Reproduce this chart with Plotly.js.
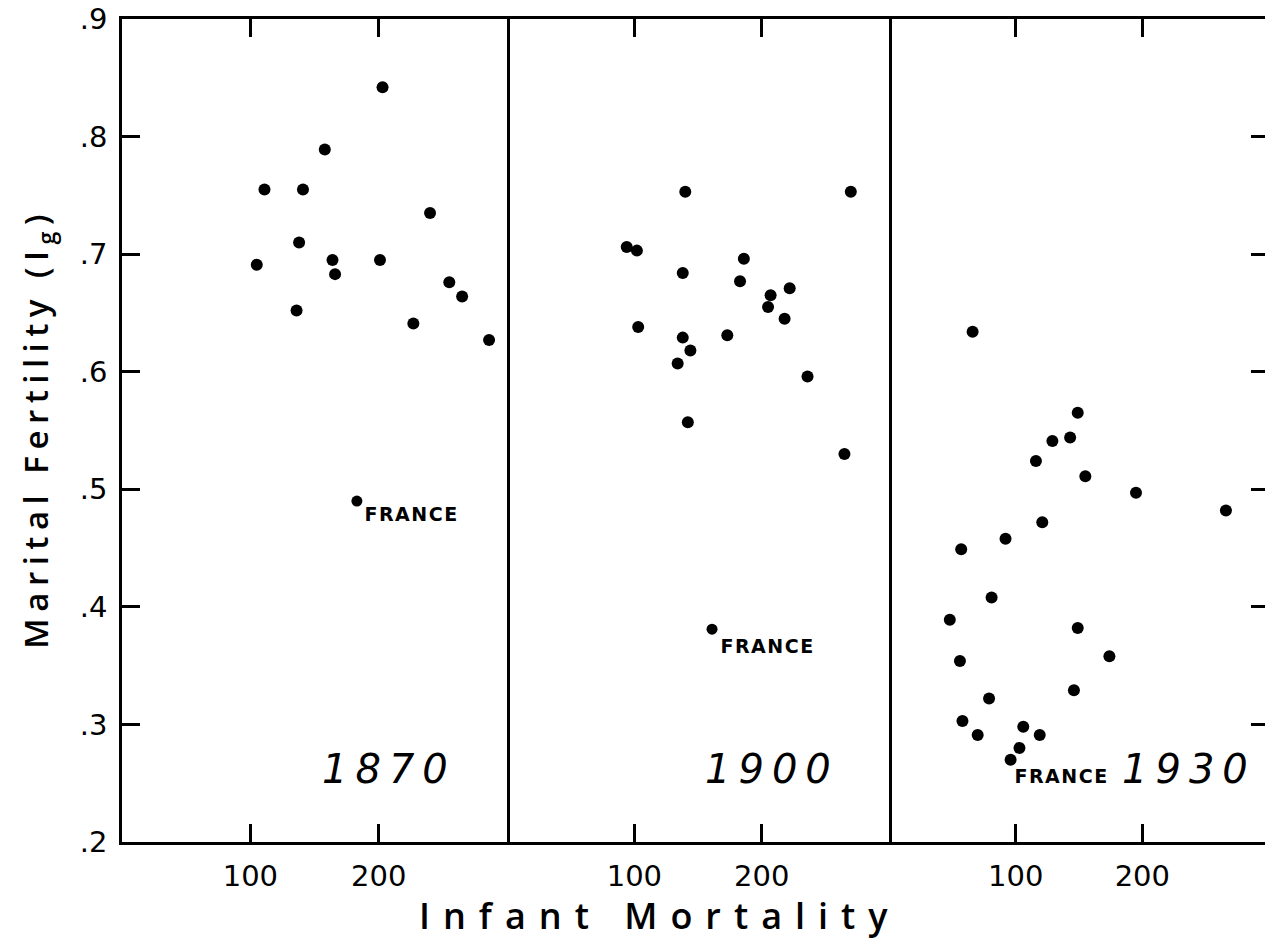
<!DOCTYPE html>
<html>
<head>
<meta charset="utf-8">
<script src="https://cdn.plot.ly/plotly-3.0.1.min.js"></script>
<style>
html, body { margin: 0; padding: 0; background: #fff; overflow: hidden; width: 1265px; height: 940px; }
#chart { width: 1270px; height: 940px; }
</style>
</head>
<body>
<div id="chart"></div>
<script>
// Infant mortality (x) and marital fertility Ig (y)
const years = ["1870", "1900", "1930"];

const mort1870 = [203, 158, 111, 141, 240, 138, 105, 164, 166, 201, 255, 265, 136, 227, 286];
const fert1870 = [0.842, 0.789, 0.755, 0.755, 0.735, 0.710, 0.691, 0.695, 0.683, 0.695, 0.676, 0.664, 0.652, 0.641, 0.627];

const mort1900 = [140, 270, 94, 102, 186, 138, 183, 222, 207, 205, 218, 103, 138, 173, 144, 134, 236, 142, 265];
const fert1900 = [0.753, 0.753, 0.706, 0.703, 0.696, 0.684, 0.677, 0.671, 0.665, 0.655, 0.645, 0.638, 0.629, 0.631, 0.618, 0.607, 0.596, 0.557, 0.530];

const mort1930 = [66, 149, 143, 129, 116, 155, 195, 266, 121, 92, 57, 81, 48, 149, 56, 174, 146, 79, 58, 70, 106, 119, 103];
const fert1930 = [0.634, 0.565, 0.544, 0.541, 0.524, 0.511, 0.497, 0.482, 0.472, 0.458, 0.449, 0.408, 0.389, 0.382, 0.354, 0.358, 0.329, 0.322, 0.303, 0.291, 0.298, 0.291, 0.280];

// France, one point per panel
const franceMort = [183, 161, 96];
const franceFert = [0.490, 0.381, 0.270];
const franceLabel = "FRANCE";

const yTickVals = [0.2, 0.3, 0.4, 0.5, 0.6, 0.7, 0.8, 0.9];
const yTickText = [".2", ".3", ".4", ".5", ".6", ".7", ".8", ".9"];
const xTickVals = [100, 200];
const xTickText = ["100", "200"];

const xTitle = "Infant Mortality";
const yTitle = "Marital Fertility (I<sub>g</sub>)";

const FONT = "DejaVu Sans, Lato, sans-serif";
const TFONT = "Open Sans, DejaVu Sans, sans-serif";
const dot = { color: "#000", size: 12 };
const fdot = { color: "#000", size: 11 };

const traces = [
  { x: mort1870, y: fert1870, xaxis: "x", yaxis: "y", mode: "markers", marker: dot, type: "scatter", name: "1870" },
  { x: [franceMort[0]], y: [franceFert[0]], xaxis: "x", yaxis: "y", mode: "markers", marker: fdot, type: "scatter", name: "France 1870" },
  { x: mort1900, y: fert1900, xaxis: "x2", yaxis: "y2", mode: "markers", marker: dot, type: "scatter", name: "1900" },
  { x: [franceMort[1]], y: [franceFert[1]], xaxis: "x2", yaxis: "y2", mode: "markers", marker: fdot, type: "scatter", name: "France 1900" },
  { x: mort1930, y: fert1930, xaxis: "x3", yaxis: "y3", mode: "markers", marker: dot, type: "scatter", name: "1930" },
  { x: [franceMort[2]], y: [franceFert[2]], xaxis: "x3", yaxis: "y3", mode: "markers", marker: dot, type: "scatter", name: "France 1930" }
];

const lw = 2.8;
function xAxis(domain) {
  return {
    domain: domain, range: [0, 300], showgrid: false, zeroline: false,
    showline: true, linecolor: "#000", linewidth: lw, mirror: "ticks",
    ticks: "inside", ticklen: 18, tickwidth: 3, tickcolor: "#000",
    tickvals: xTickVals, ticktext: xTickText,
    tickfont: { family: FONT, size: 29, color: "#000" }, ticklabelstandoff: 6,
    fixedrange: true
  };
}
function yAxis(anchor, opts) {
  return Object.assign({
    anchor: anchor, domain: [0, 1], range: [0.2, 0.9], showgrid: false, zeroline: false,
    showline: true, linecolor: "#000", linewidth: lw, mirror: false,
    tickvals: yTickVals, ticktext: yTickText, tickcolor: "#000",
    ticklen: 18, tickwidth: 3,
    tickfont: { family: FONT, size: 29, color: "#000" }, fixedrange: true
  }, opts);
}

const ann = [];
// year labels
const yearX = [208, 208, 237];
for (let i = 0; i < 3; i++) {
  ann.push({ xref: i === 0 ? "x" : "x" + (i + 1), yref: i === 0 ? "y" : "y" + (i + 1),
    x: yearX[i], y: 0.262, text: years[i], showarrow: false, xanchor: "center", yanchor: "middle",
    font: { family: FONT, size: 40, color: "#000", style: "italic", weight: 300 } });
}
// FRANCE labels
const labX = [191, 170, 101];
const labY = [0.479, 0.367, 0.256];
for (let i = 0; i < 3; i++) {
  ann.push({ xref: i === 0 ? "x" : "x" + (i + 1), yref: i === 0 ? "y" : "y" + (i + 1),
    x: labX[i], y: labY[i], text: franceLabel, showarrow: false, xanchor: "left", yanchor: "middle",
    font: { family: FONT, size: 19, color: "#000", weight: "bold" } });
}
// axis titles
ann.push({ xref: "paper", yref: "paper", x: 0.469, y: -0.089, text: xTitle, showarrow: false,
  xanchor: "center", yanchor: "middle", font: { family: TFONT, size: 36, color: "#000", weight: 600 } });
ann.push({ xref: "paper", yref: "paper", x: -0.074, y: 0.503, text: yTitle, showarrow: false, textangle: -90,
  xanchor: "center", yanchor: "middle", font: { family: TFONT, size: 33, color: "#000", weight: 600 } });

const layout = {
  width: 1270, height: 940,
  margin: { l: 122, r: 1, t: 19, b: 98, pad: 0 },
  paper_bgcolor: "#fff", plot_bgcolor: "#fff",
  showlegend: false,
  xaxis: xAxis([0, 0.3357]),
  xaxis2: xAxis([0.3357, 0.6687]),
  xaxis3: xAxis([0.6687, 1]),
  yaxis: yAxis("x", { side: "left", ticks: "inside", ticklabelstandoff: 6, mirror: true }),
  yaxis2: yAxis("x2", { side: "right", ticks: "", showticklabels: false, matches: "y" }),
  yaxis3: yAxis("x3", { side: "right", ticks: "inside", showticklabels: false, matches: "y" }),
  annotations: ann
};

const spacing = { "1870": "8px", "1900": "8px", "1930": "8px", "FRANCE": "1.5px", "Infant Mortality": "13px" };

Plotly.newPlot("chart", traces, layout, { displayModeBar: false, staticPlot: true }).then(function () {
  document.querySelectorAll(".annotation-text").forEach(function (el) {
    const t = el.textContent;
    if (spacing[t]) el.style.letterSpacing = spacing[t];
    if (t.indexOf("Marital") === 0) el.style.letterSpacing = "6.5px";
  });
});
</script>
</body>
</html>
